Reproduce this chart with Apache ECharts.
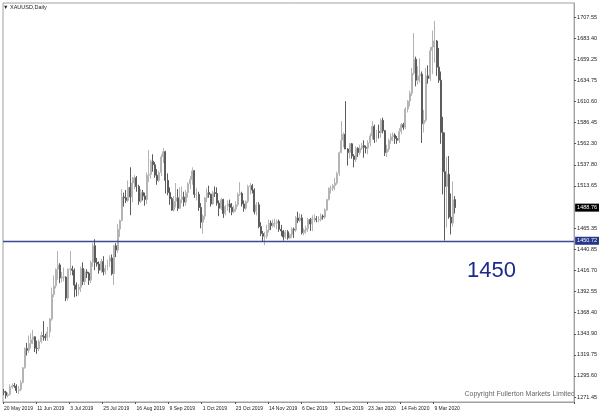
<!DOCTYPE html>
<html>
<head>
<meta charset="utf-8">
<script src="https://cdn.jsdelivr.net/npm/echarts@6/dist/echarts.min.js"></script>
<style>
  html, body { margin: 0; padding: 0; background: #fff; }
  #chart { width: 600px; height: 416px; }
</style>
</head>
<body>
<div id="chart"></div>
<script>
// daily bars: [open, high, low, close]
const ohlc = [
  [1277.5,1280.5,1273.5,1277.0],[1277.0,1278.5,1269.5,1273.0],[1273.0,1276.5,1271.0,1274.5],[1274.5,1286.0,1273.0,1283.0],
  [1283.0,1287.0,1281.0,1284.5],[1284.5,1287.5,1282.0,1284.0],[1284.0,1286.0,1276.0,1279.0],[1279.0,1284.0,1275.0,1280.0],
  [1280.0,1291.0,1278.0,1288.0],[1288.0,1306.0,1287.0,1305.0],
  [1305.0,1328.5,1304.0,1327.0],[1327.0,1333.5,1319.0,1325.0],[1325.0,1342.0,1322.0,1333.0],[1333.0,1344.5,1327.0,1337.0],
  [1337.0,1348.5,1332.0,1340.5],[1340.5,1341.0,1323.0,1327.5],[1327.5,1336.0,1321.0,1327.0],[1327.0,1337.5,1324.0,1335.0],
  [1335.0,1346.0,1333.0,1342.0],[1342.0,1358.5,1336.0,1341.0],[1341.0,1344.0,1336.0,1339.5],[1339.5,1352.0,1336.0,1346.0],
  [1346.0,1362.0,1340.0,1361.0],[1361.0,1397.0,1359.0,1389.0],[1389.0,1411.0,1386.0,1399.0],[1399.0,1419.0,1396.0,1418.0],
  [1418.0,1439.0,1406.0,1423.0],[1423.0,1425.0,1402.0,1408.0],[1408.0,1415.0,1403.0,1409.0],[1409.0,1420.0,1404.0,1409.0],
  [1409.0,1410.0,1381.5,1385.0],[1385.0,1419.0,1382.0,1418.0],[1418.0,1439.0,1411.0,1418.5],[1418.5,1422.0,1411.0,1417.0],
  [1417.0,1419.0,1386.0,1400.0],[1400.0,1403.0,1387.0,1395.0],[1395.0,1401.0,1388.0,1397.5],[1397.5,1421.0,1392.0,1419.0],
  [1419.0,1426.0,1400.0,1404.0],[1404.0,1418.0,1400.0,1415.0],[1415.0,1418.0,1408.0,1413.5],[1413.5,1415.0,1400.0,1405.5],
  [1405.5,1428.0,1402.0,1426.0],[1426.0,1448.0,1421.0,1445.0],[1445.0,1452.5,1417.0,1426.0],[1426.0,1431.0,1421.0,1424.0],
  [1424.0,1427.0,1413.0,1417.0],[1417.0,1430.0,1414.0,1427.0],[1427.0,1433.0,1411.0,1415.0],[1415.0,1423.0,1412.0,1419.0],
  [1419.0,1429.0,1417.0,1427.0],[1427.0,1434.0,1421.0,1431.0],[1431.0,1435.0,1411.0,1413.0],[1413.0,1446.0,1400.0,1445.0],
  [1445.0,1448.0,1432.0,1440.0],[1440.0,1470.0,1437.0,1464.0],[1464.0,1475.0,1455.0,1474.0],[1474.0,1510.0,1473.0,1501.0],
  [1501.0,1506.0,1490.0,1500.0],[1500.0,1509.0,1494.0,1497.0],[1497.0,1520.0,1495.0,1512.0],[1512.0,1535.0,1480.0,1501.0],
  [1501.0,1524.0,1495.0,1517.0],[1517.0,1526.0,1510.0,1523.0],[1523.0,1525.0,1507.0,1513.0],[1513.0,1515.0,1492.0,1496.0],
  [1496.0,1510.0,1494.0,1506.0],[1506.0,1509.0,1497.0,1502.0],[1502.0,1506.0,1491.0,1498.0],[1498.0,1529.0,1493.0,1526.0],
  [1526.0,1555.0,1518.0,1527.0],[1527.0,1544.0,1522.0,1542.0],[1542.0,1550.0,1530.0,1538.0],[1538.0,1541.0,1523.0,1526.0],
  [1526.0,1533.0,1515.0,1520.0],[1520.0,1531.0,1518.0,1529.0],[1529.0,1550.0,1525.0,1547.0],[1547.0,1557.0,1540.0,1553.0],
  [1553.0,1554.0,1505.0,1520.0],[1520.0,1528.0,1503.0,1506.0],[1506.0,1512.0,1492.0,1499.0],[1499.0,1501.0,1485.0,1486.0],
  [1486.0,1502.0,1484.0,1496.0],[1496.0,1517.0,1489.0,1500.0],[1500.0,1510.0,1485.0,1488.0],[1488.0,1512.0,1487.0,1498.0],
  [1498.0,1513.0,1494.0,1501.0],[1501.0,1507.0,1490.0,1495.0],[1495.0,1509.0,1491.0,1506.0],[1506.0,1518.0,1500.0,1516.0],
  [1516.0,1525.0,1510.0,1521.0],[1521.0,1535.0,1515.0,1531.0],[1531.0,1532.0,1500.0,1504.0],[1504.0,1511.0,1497.0,1504.0],
  [1504.0,1507.0,1485.0,1489.0],[1489.0,1494.0,1465.0,1472.0],[1472.0,1481.0,1459.0,1479.0],[1479.0,1501.0,1475.0,1500.0],
  [1500.0,1511.0,1495.0,1506.0],[1506.0,1514.0,1500.0,1504.0],[1504.0,1505.0,1490.0,1493.0],[1493.0,1508.0,1492.0,1506.0],
  [1506.0,1513.0,1501.0,1505.0],[1505.0,1512.0,1491.0,1494.0],[1494.0,1497.0,1479.0,1488.0],[1488.0,1500.0,1486.0,1498.0],
  [1498.0,1499.0,1477.0,1482.0],[1482.0,1492.0,1480.0,1490.0],[1490.0,1497.0,1485.0,1493.0],[1493.0,1498.0,1483.0,1489.0],
  [1489.0,1494.0,1480.0,1484.0],[1484.0,1491.0,1482.0,1487.0],[1487.0,1496.0,1484.0,1492.0],[1492.0,1506.0,1490.0,1504.0],
  [1504.0,1518.0,1502.0,1505.0],[1505.0,1507.0,1490.0,1493.0],[1493.0,1497.0,1484.0,1488.0],[1488.0,1497.0,1486.0,1496.0],
  [1496.0,1515.0,1494.0,1513.0],[1513.0,1517.0,1504.0,1514.0],[1514.0,1516.0,1505.0,1509.0],[1509.0,1511.0,1481.0,1484.0],
  [1484.0,1495.0,1480.0,1492.0],[1492.0,1495.0,1465.0,1467.0],[1467.0,1472.0,1456.0,1459.0],[1459.0,1462.0,1450.0,1456.0],
  [1456.0,1461.0,1445.5,1456.0],[1456.0,1469.0,1453.0,1463.0],[1463.0,1475.0,1460.0,1471.0],[1471.0,1474.0,1463.0,1468.0],
  [1468.0,1475.0,1466.0,1471.0],[1471.0,1476.0,1466.0,1471.0],[1471.0,1475.0,1464.0,1473.0],[1473.0,1475.0,1461.0,1464.0],
  [1464.0,1469.0,1456.0,1462.0],[1462.0,1463.0,1451.0,1455.0],[1455.0,1463.0,1453.0,1461.0],[1461.0,1463.0,1452.0,1454.0],
  [1454.0,1459.0,1453.0,1458.0],[1458.0,1466.0,1454.0,1464.0],[1464.0,1466.0,1454.0,1463.0],[1463.0,1479.0,1461.0,1477.0],
  [1477.0,1484.0,1471.0,1474.0],[1474.0,1482.0,1472.0,1477.0],[1477.0,1481.0,1458.0,1460.0],[1460.0,1465.0,1457.0,1463.0],
  [1463.0,1468.0,1459.0,1465.0],[1465.0,1477.0,1461.0,1475.0],[1475.0,1477.0,1462.0,1470.0],[1470.0,1480.0,1462.0,1476.0],
  [1476.0,1481.0,1472.0,1476.0],[1476.0,1479.0,1472.0,1475.0],[1475.0,1479.0,1472.0,1475.0],[1475.0,1482.0,1473.0,1479.0],
  [1479.0,1481.0,1475.0,1478.0],[1478.0,1488.0,1476.0,1486.0],[1486.0,1499.0,1485.0,1498.0],[1498.0,1512.0,1497.0,1511.0],
  [1511.0,1514.0,1505.0,1511.0],[1511.0,1516.0,1508.0,1514.0],[1514.0,1523.0,1509.0,1517.0],[1517.0,1530.0,1515.0,1528.0],
  [1528.0,1553.0,1525.0,1552.0],[1552.0,1588.0,1551.0,1566.0],[1566.0,1575.0,1558.0,1573.0],[1573.0,1611.0,1556.0,1556.0],
  [1556.0,1557.0,1537.0,1552.0],[1552.0,1563.0,1545.0,1562.0],[1562.0,1563.0,1545.0,1548.0],[1548.0,1550.0,1535.0,1544.0],
  [1544.0,1559.0,1541.0,1557.0],[1557.0,1558.0,1547.0,1552.0],[1552.0,1561.0,1549.0,1557.0],[1557.0,1563.0,1555.0,1560.0],
  [1560.0,1566.0,1546.0,1558.0],[1558.0,1560.0,1551.0,1557.0],[1557.0,1566.0,1550.0,1563.0],[1563.0,1574.0,1559.0,1571.0],
  [1571.0,1588.0,1567.0,1582.0],[1582.0,1584.0,1563.0,1567.0],[1567.0,1578.0,1564.0,1576.0],[1576.0,1584.0,1568.0,1575.0],
  [1575.0,1591.0,1569.0,1589.0],[1589.0,1592.0,1574.0,1577.0],[1577.0,1578.0,1548.0,1552.0],[1552.0,1561.0,1547.0,1556.0],
  [1556.0,1568.0,1553.0,1566.0],[1566.0,1574.0,1562.0,1570.0],[1570.0,1575.0,1565.0,1572.0],[1572.0,1574.0,1562.0,1568.0],
  [1568.0,1571.0,1562.0,1566.0],[1566.0,1580.0,1563.0,1576.0],[1576.0,1586.0,1573.0,1584.0],[1584.0,1586.0,1578.0,1581.0],
  [1581.0,1604.0,1579.0,1602.0],[1602.0,1612.0,1598.0,1611.0],[1611.0,1623.0,1605.0,1620.0],[1620.0,1649.0,1617.0,1643.0],
  [1643.0,1689.0,1641.0,1659.0],[1659.0,1662.0,1628.0,1635.0],[1635.0,1651.0,1630.0,1640.0],[1640.0,1660.0,1632.0,1642.0],
  [1642.0,1645.0,1563.0,1585.0],[1585.0,1601.0,1575.0,1589.0],[1589.0,1649.0,1587.0,1640.0],[1640.0,1652.0,1631.0,1637.0],
  [1637.0,1673.0,1634.0,1669.0],[1669.0,1692.0,1642.0,1673.0],[1673.0,1703.0,1655.0,1680.0],[1680.0,1681.0,1640.0,1650.0],
  [1650.0,1672.0,1632.0,1635.0],[1635.0,1645.0,1562.0,1575.0],[1575.0,1593.0,1504.0,1530.0],[1530.0,1575.0,1451.0,1513.0],
  [1513.0,1547.0,1466.0,1527.0],[1527.0,1548.0,1476.0,1478.0],[1478.0,1505.0,1458.0,1471.0],[1471.0,1519.0,1467.0,1498.0],
  [1498.0,1502.0,1482.0,1488.76]
];

// price scale labels on the right (1489.50 sits under the bid box)
const yTicks = [1271.45, 1295.60, 1319.75, 1343.90, 1368.40, 1392.55, 1416.70, 1440.85, 1465.35,
  1513.65, 1537.80, 1562.30, 1586.45, 1610.60, 1634.75, 1659.25, 1683.40, 1707.55];
const levelPrice = 1450.72;
const bidPrice = 1488.76;
const skipDays = ['2019-12-25', '2020-01-01'];
const totalSlots = 276; // includes empty chart shift on the right

const months = ['Jan','Feb','Mar','Apr','May','Jun','Jul','Aug','Sep','Oct','Nov','Dec'];
const dates = [];
let d = new Date(Date.UTC(2019, 4, 20));
while (dates.length < totalSlots) {
  const iso = d.toISOString().slice(0, 10);
  const wd = d.getUTCDay();
  if (wd !== 0 && wd !== 6 && skipDays.indexOf(iso) < 0) {
    dates.push(d.getUTCDate() + ' ' + months[d.getUTCMonth()] + ' ' + d.getUTCFullYear());
  }
  d = new Date(d.getTime() + 86400000);
}

const candleData = ohlc.map(b => [b[0], b[3], b[2], b[1]]);

const chart = echarts.init(document.getElementById('chart'));
const showTick = i => i % 16 === 0 && i < ohlc.length;

chart.setOption({
  animation: false,
  grid: {
    left: 3, right: 23, top: 3, bottom: 14,
    show: true, borderColor: '#a0a0a0', borderWidth: 1
  },
  xAxis: {
    type: 'category',
    data: dates,
    boundaryGap: true,
    axisLine: { lineStyle: { color: '#a0a0a0' } },
    axisTick: { show: true, interval: showTick, length: 2, lineStyle: { color: '#555' } },
    axisLabel: {
      interval: showTick,
      align: 'left',
      margin: 4,
      fontSize: 5,
      color: '#222',
      fontFamily: 'Liberation Sans'
    },
    splitLine: { show: false }
  },
  yAxis: {
    type: 'value',
    position: 'right',
    min: 1265.7,
    max: 1723.6,
    axisLine: { show: true, lineStyle: { color: '#a0a0a0' } },
    axisTick: { show: true, customValues: yTicks, length: 2, lineStyle: { color: '#555' } },
    axisLabel: {
      customValues: yTicks,
      formatter: v => v.toFixed(2),
      margin: 3,
      fontSize: 5.5,
      color: '#222',
      fontFamily: 'Liberation Sans'
    },
    splitLine: { show: false }
  },
  series: [{
    type: 'candlestick',
    data: candleData,
    barWidth: '72%',
    itemStyle: {
      color: '#ffffff',
      color0: '#333333',
      borderColor: '#b4b4b4',
      borderColor0: '#5c5c5c',
      borderWidth: 1
    },
    markLine: {
      silent: true,
      symbol: ['none', 'none'],
      animation: false,
      label: {
        position: 'end',
        distance: 1,
        color: '#fff',
        fontSize: 5.5,
        fontFamily: 'Liberation Sans',
        padding: [1, 2, 1, 2],
        formatter: p => p.value.toFixed(2)
      },
      data: [
        {
          yAxis: levelPrice,
          lineStyle: { color: '#3a4899', width: 1.3, type: 'solid' },
          label: { backgroundColor: '#27358c' }
        },
        {
          yAxis: bidPrice,
          lineStyle: { color: 'rgba(0,0,0,0)', width: 0 },
          label: { backgroundColor: '#000' }
        }
      ]
    }
  }],
  graphic: [
    {
      type: 'text', left: 3, top: 4,
      style: { text: '\u25BC XAUUSD,Daily', fontSize: 5.5, fill: '#222', fontFamily: 'Liberation Sans' }
    },
    {
      type: 'text', left: 467, top: 260,
      style: { text: '1450', fontSize: 22, fill: '#1a2a8a', fontFamily: 'Liberation Sans' }
    },
    {
      type: 'text', right: 25, top: 391,
      style: { text: 'Copyright Fullerton Markets Limited', fontSize: 7, fill: '#666', fontFamily: 'Liberation Sans' }
    }
  ]
});
</script>
</body>
</html>
